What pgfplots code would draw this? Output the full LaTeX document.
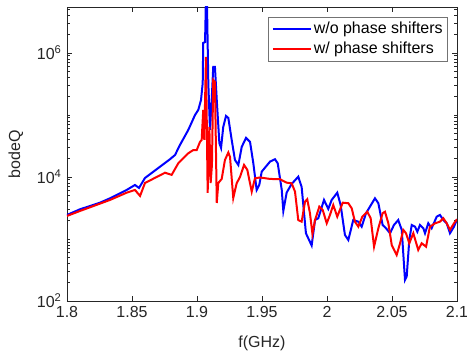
\documentclass[border=0pt]{standalone}
\usepackage{fontspec}
\setmainfont{Liberation Sans}
\usepackage{pgfplots}
\pgfplotsset{compat=1.18}
\definecolor{txt}{rgb}{0.15,0.15,0.15}
\begin{document}
\fontsize{16}{19}\selectfont
\begin{tikzpicture}
\useasboundingbox (-67pt,-60pt) rectangle (400pt,301pt);
\begin{axis}[
  at={(0pt,0pt)}, anchor=south west,
  scale only axis, width=390pt, height=294pt,
  xmin=1.8, xmax=2.1, ymode=log, ymin=100, ymax=5.5e6,
  xtick={1.8,1.85,1.9,1.95,2,2.05,2.1},
  xticklabels={1.8,1.85,1.9,1.95,2,2.05,2.1},
  ytick={1e2,1e4,1e6},
  yticklabels={10\textsuperscript{2},10\textsuperscript{4},10\textsuperscript{6}},
  minor ytick={200,300,400,500,600,700,800,900,1000,2000,3000,4000,5000,6000,7000,8000,9000,2e4,3e4,4e4,5e4,6e4,7e4,8e4,9e4,1e5,2e5,3e5,4e5,5e5,6e5,7e5,8e5,9e5,2e6,3e6,4e6,5e6},
  tick align=inside, major tick length=5pt, minor tick length=3pt,
  tick style={color=txt, line width=0.6pt},
  axis line style={color=txt, line width=0.6pt},
  every tick label/.append style={font=\fontsize{16}{19}\selectfont, text=txt},
  xlabel={f(GHz)}, ylabel={bodeQ},
  label style={font=\fontsize{16}{19}\selectfont, text=txt},
  xlabel style={yshift=-7pt},
  ylabel style={yshift=3pt},
  legend style={at={(0.977,0.966)}, anchor=north east, draw=black!55, line width=0.6pt,
    font=\fontsize{16}{19}\selectfont, inner sep=3pt, row sep=2pt, legend cell align=left},
  legend image code/.code={\draw[#1] (0pt,0pt) -- (38pt,0pt);},
]
\addplot[blue, line width=2pt] coordinates {
(1.8,2440) (1.81,3010) (1.8254,3850) (1.8331,4530) (1.8459,6170) (1.8523,7430) (1.8554,6650)
(1.86,9640) (1.8792,19300) (1.8831,22600) (1.8869,32800) (1.8933,57300) (1.8985,100000)
(1.9010,120500) (1.9031,174600) (1.9044,328000) (1.9048,1450000) (1.9062,1500000)
(1.9069,8000000) (1.9077,6000000) (1.9087,328000) (1.91,57300) (1.9113,174600)
(1.9125,594000) (1.9138,594000) (1.9152,174600) (1.9172,35300) (1.9185,29400)
(1.9202,64000) (1.9223,96300) (1.9241,89500) (1.9267,39500) (1.9292,18800) (1.9318,15600)
(1.9344,30500) (1.9377,42600) (1.9408,36700) (1.9433,16800) (1.9459,6170) (1.9479,7430)
(1.9498,12200) (1.9562,17700) (1.96,19300) (1.9621,16600) (1.9652,6170) (1.9664,2830)
(1.9690,5620) (1.9728,7710) (1.9779,10100) (1.9805,6900) (1.9838,1236) (1.9856,1026)
(1.9882,785) (1.9908,2020) (1.9933,2160) (1.9977,4260) (2.0010,3050) (2.0036,4260)
(2.0079,5580) (2.0105,3530) (2.0138,1160) (2.0164,964) (2.0202,2020) (2.0241,1900)
(2.0267,1580) (2.0300,2600) (2.0369,4530) (2.0395,3770) (2.0428,1680) (2.0454,1490)
(2.0485,1236) (2.0515,1680) (2.0548,2020) (2.0575,1400) (2.06,218) (2.0613,247)
(2.0633,964) (2.0652,1680) (2.0677,1580) (2.0695,1310) (2.0715,1680) (2.0741,1490)
(2.0754,1236) (2.0779,1790) (2.0805,1490) (2.0844,2290) (2.0869,2440) (2.0895,2020)
(2.0921,1790) (2.0946,1236) (2.0977,1580) (2.1,2080)
};
\addlegendentry{w/o phase shifters}
\addplot[red, line width=2pt] coordinates {
(1.8,2350) (1.81,2830) (1.8331,4260) (1.8459,5580) (1.8523,6170) (1.8562,4940) (1.86,8000)
(1.8754,11700) (1.8805,10800) (1.8856,16600) (1.8933,24100) (1.8972,27200) (1.8998,27200)
(1.9023,36700) (1.9036,39500) (1.9048,120500) (1.9056,39500) (1.9069,861000) (1.9082,5520)
(1.9095,64000) (1.9105,8000) (1.9115,15600) (1.9125,367000) (1.9138,340000) (1.9152,3810)
(1.9164,8000) (1.9190,9290) (1.9215,18800) (1.9241,24800) (1.9254,21000) (1.9279,4580)
(1.9305,7910) (1.9331,10000) (1.9362,15600) (1.9387,13000) (1.9421,5790) (1.9446,9530)
(1.9485,9810) (1.9562,9290) (1.9638,9200) (1.9690,8090) (1.9728,7900) (1.9754,5790)
(1.9779,2020) (1.9805,1900) (1.9831,4000) (1.9848,4370) (1.9869,2600) (1.9888,1205)
(1.9908,2020) (1.9941,3320) (1.9967,2940) (1.9998,1790) (2.0023,2440) (2.0048,3530)
(2.0079,2290) (2.0121,3850) (2.0164,3770) (2.0190,3130) (2.0215,1900) (2.0241,1580)
(2.0272,2290) (2.0310,2750) (2.0336,2160) (2.0362,751) (2.0395,1490) (2.0428,2600)
(2.0446,2750) (2.0472,1790) (2.0498,800) (2.0536,552) (2.0562,853) (2.0587,1400)
(2.0608,1236) (2.0633,853) (2.0664,1236) (2.0702,665) (2.0728,853) (2.0762,751)
(2.0792,1580) (2.0831,1790) (2.0869,1900) (2.0895,2160) (2.0921,1790) (2.0946,1400)
(2.0977,1790) (2.1,2080)
};
\addlegendentry{w/ phase shifters}
\end{axis}
\end{tikzpicture}
\end{document}
